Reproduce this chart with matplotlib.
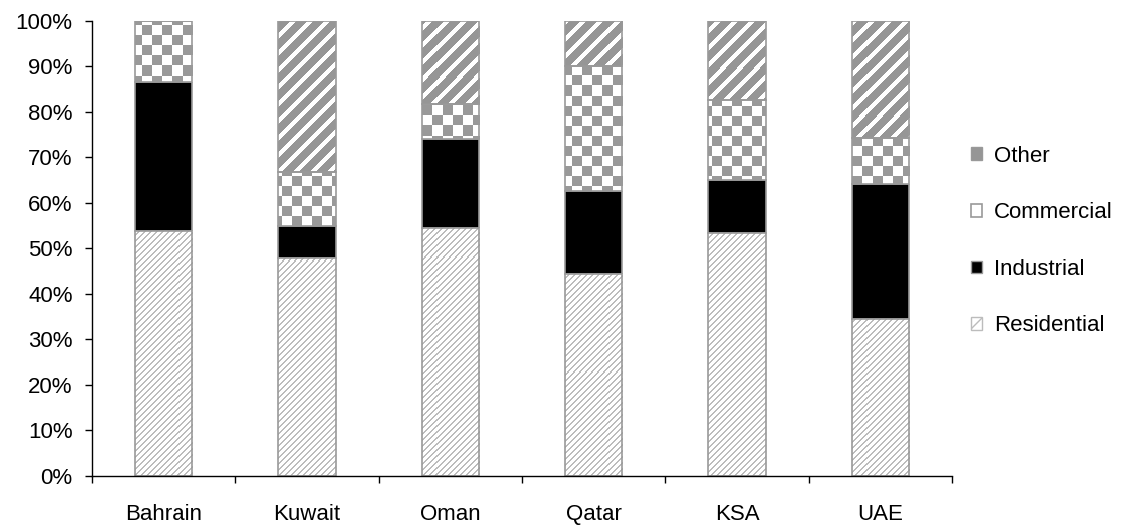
import numpy as np
import matplotlib
matplotlib.use("Agg")
import matplotlib.pyplot as plt
from matplotlib.colors import ListedColormap
from matplotlib.patches import Patch
from matplotlib.ticker import PercentFormatter, FixedLocator

plt.rcParams['font.family'] = ['Liberation Sans', 'DejaVu Sans']

countries = ["Bahrain", "Kuwait", "Oman", "Qatar", "KSA", "UAE"]
residential = [53.8, 47.8, 54.6, 44.4, 53.3, 34.5]
industrial = [32.7, 7.1, 19.4, 18.2, 11.8, 29.7]
commercial = [13.5, 11.8, 7.7, 27.6, 17.5, 10.0]
other = [0.0, 33.3, 18.3, 9.8, 17.4, 25.8]

edge = "#999999"
grey = "#969696"
light = "#bcbcbc"

fig = plt.figure(figsize=(11.34, 5.27), dpi=100)
ax = fig.add_axes([0.0811, 0.0968, 0.7584, 0.8634])
ax.set_xlim(-0.5, 5.5)
ax.set_ylim(0, 100)

# texture images at roughly screen resolution of the axes
H, W = 455, 860
ii, jj = np.mgrid[0:H, 0:W]
diag = jj - ii
tex_res = (diag % 6 < 2).astype(float)              # fine grey lines
tex_oth = (diag % 17 >= 6).astype(float)            # wide white stripes
tex_com = ((ii // 10 + jj // 10) % 2).astype(float)  # checkerboard


def textured(vals, bottom, tex, cmap, z):
    bars = ax.bar(x, vals, w, bottom=bottom, color="white", linewidth=0, zorder=z)
    for b in bars:
        im = ax.imshow(tex, cmap=cmap, vmin=0, vmax=1, extent=(-0.5, 5.5, 0, 100),
                       origin="lower", aspect="auto", interpolation="nearest",
                       zorder=z + 0.1)
        im.set_clip_path(b)
    ax.bar(x, vals, w, bottom=bottom, fill=False, edgecolor=edge, linewidth=1.2,
           zorder=z + 0.2)


x = np.arange(len(countries))
w = 0.4
base = np.zeros(len(countries))

textured(residential, base.copy(), tex_res, ListedColormap(["white", light]), 2)
base += residential

ax.bar(x, industrial, w, bottom=base, color="black", edgecolor=edge, linewidth=1.2,
       zorder=2)
base += industrial

textured(commercial, base.copy(), tex_com, ListedColormap(["white", edge]), 2)
base += commercial

textured(other, base.copy(), tex_oth, ListedColormap(["white", grey]), 2)

ax.yaxis.set_major_locator(FixedLocator(np.arange(0, 101, 10)))
ax.yaxis.set_major_formatter(PercentFormatter(decimals=0))
ax.set_xticks(x)
ax.set_xticklabels(countries)
ax.xaxis.set_minor_locator(FixedLocator(np.arange(-0.5, 6, 1)))

for s in ["top", "right"]:
    ax.spines[s].set_visible(False)
for s in ["left", "bottom"]:
    ax.spines[s].set_linewidth(1.0)
    ax.spines[s].set_color("black")

ax.tick_params(axis="y", direction="out", length=5, width=1.0, pad=9, labelsize=16)
ax.tick_params(axis="x", which="major", length=0, pad=20, labelsize=16)
ax.tick_params(axis="x", which="minor", direction="out", length=5, width=1.0)

handles = [
    Patch(facecolor=grey, edgecolor=edge, linewidth=1.0, label="Other"),
    Patch(facecolor="white", edgecolor=edge, linewidth=1.2, label="Commercial"),
    Patch(facecolor="black", edgecolor=edge, linewidth=1.0, label="Industrial"),
    Patch(facecolor="white", edgecolor=light, hatch="/", linewidth=1.0, label="Residential"),
]
fig.legend(handles=handles, loc="center left", bbox_to_anchor=(0.856, 0.5427),
           frameon=False, fontsize=16, handlelength=0.5, handleheight=0.5,
           handletextpad=0.55, labelspacing=1.6, borderpad=0, borderaxespad=0)

fig.savefig("out.png", dpi=100)
